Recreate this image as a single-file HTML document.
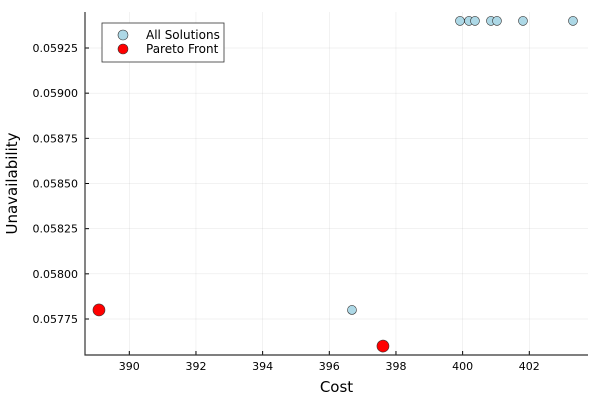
<!DOCTYPE html>
<html><head><meta charset="utf-8"><style>
body{margin:0;background:#fff}
svg text{font-family:"DejaVu Sans","Liberation Sans",sans-serif}
</style></head><body>
<svg id="chart" width="600" height="400" xmlns="http://www.w3.org/2000/svg"></svg>
<script>
const allX=[399.92,400.19,400.37,400.85,401.03,401.81,403.31,396.68];
const allY=[0.0594,0.0594,0.0594,0.0594,0.0594,0.0594,0.0594,0.0578];
const paretoX=[389.09,397.61];
const paretoY=[0.0578,0.0576];
const xTicks=[390,392,394,396,398,400,402];
const yTicks=[0.05775,0.05800,0.05825,0.05850,0.05875,0.05900,0.05925];
const yLabels=["0.05775","0.05800","0.05825","0.05850","0.05875","0.05900","0.05925"];

const L=85,R=588,T=12,B=355;
const xs=v=>129.3+(v-390)*33.333;
const ys=v=>48+(0.05925-v)*180667;
const svg=document.getElementById('chart');
const NS='http://www.w3.org/2000/svg';
function mk(t,a,p){const e=document.createElementNS(NS,t);for(const k in a)e.setAttribute(k,a[k]);(p||svg).appendChild(e);return e;}

xTicks.forEach(v=>{
 const g=mk('line',{x1:xs(v),x2:xs(v),y1:T,y2:B,stroke:'#000','stroke-opacity':0.1,'stroke-width':0.5});
 
 
 const tk=mk('line',{x1:xs(v),x2:xs(v),y1:B,y2:B-4,stroke:'#000'});
 
 
 const t=mk('text',{x:xs(v),y:B+15,'text-anchor':'middle','font-size':11});
 t.textContent=v;
 
 
});
yTicks.forEach((v,i)=>{
 const g=mk('line',{x1:L,x2:R,y1:ys(v),y2:ys(v),stroke:'#000','stroke-opacity':0.1,'stroke-width':0.5});
 
 
 const tk=mk('line',{x1:L,x2:L+4,y1:ys(v),y2:ys(v),stroke:'#000'});
 
 
 const t=mk('text',{x:L-7,y:ys(v)+4,'text-anchor':'end','font-size':11});
 t.textContent=yLabels[i];
 
 
});
const ax=mk('path',{d:`M${L},${T}V${B}H${R}`,fill:'none',stroke:'#333','stroke-width':1.2});



allX.forEach((x,i)=>{
 const c=mk('circle',{cx:xs(x),cy:ys(allY[i]),r:4.5,fill:'#add8e6',stroke:'#333','stroke-width':0.6});
 
 
});
paretoX.forEach((x,i)=>{
 const c=mk('circle',{cx:xs(x),cy:ys(paretoY[i]),r:6,fill:'#ff0000',stroke:'#333','stroke-width':0.6});
 
 
});

const xt=mk('text',{x:(L+R)/2,y:392,'text-anchor':'middle','font-size':15});
xt.textContent='Cost';


const yt=mk('text',{x:0,y:0,'text-anchor':'middle','font-size':15,transform:`translate(17,${(T+B)/2}) rotate(-90)`});
yt.textContent='Unavailability';



const lg=mk('g',{});


mk('rect',{x:102,y:23,width:122,height:39,fill:'#fff',stroke:'#333','stroke-width':0.8},lg);
const e1=mk('circle',{cx:123,cy:35,r:5,fill:'#add8e6',stroke:'#333','stroke-width':0.6},lg);


const t1=mk('text',{x:146,y:39,'font-size':12},lg);t1.textContent='All Solutions';


const e2=mk('circle',{cx:123,cy:49,r:5,fill:'#ff0000',stroke:'#333','stroke-width':0.6},lg);


const t2=mk('text',{x:146,y:53,'font-size':12},lg);t2.textContent='Pareto Front';


</script>
</body></html>
